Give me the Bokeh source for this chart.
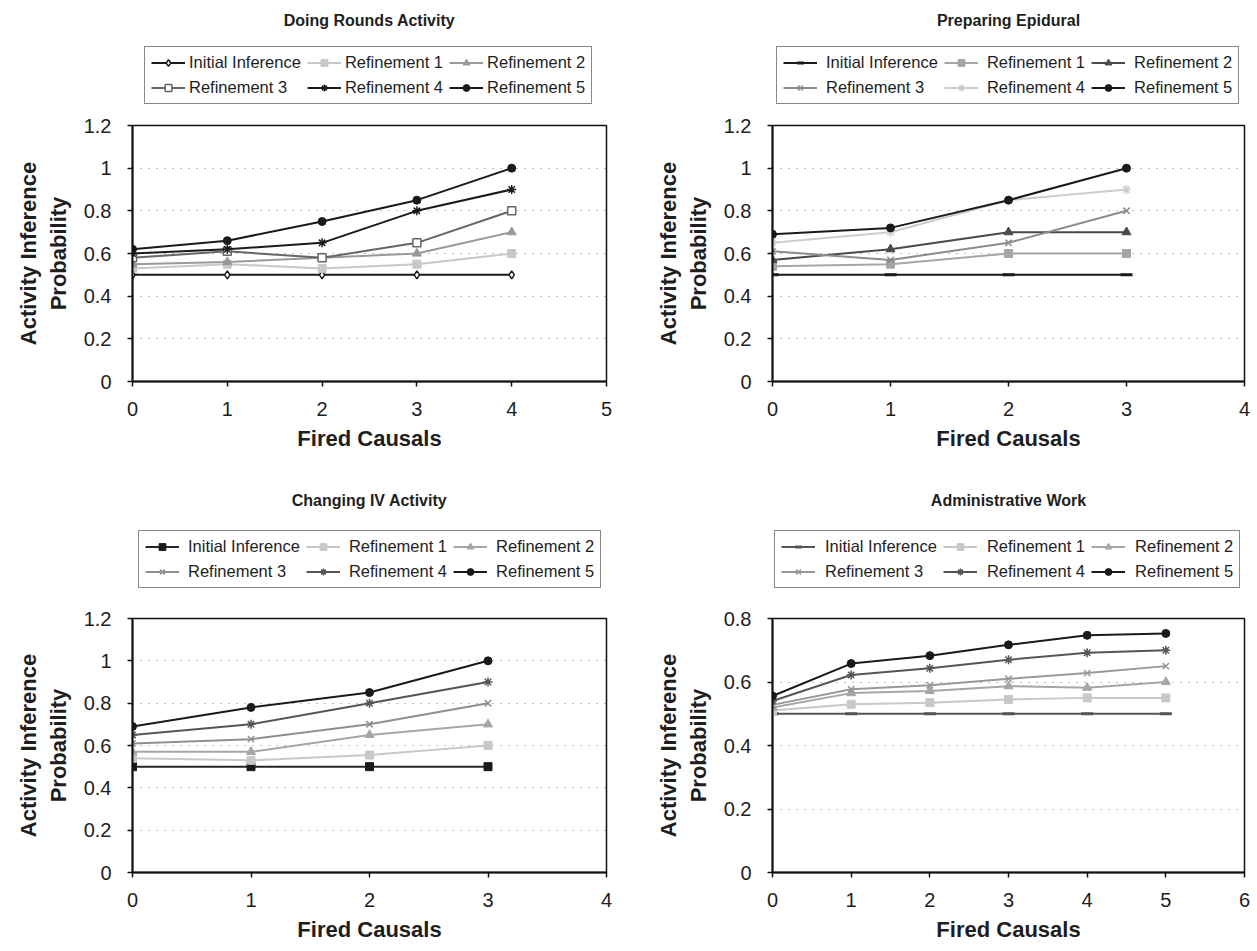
from bokeh.plotting import figure
from bokeh.models import Range1d, FixedTicker, NumeralTickFormatter, Legend, LegendItem, Label
from bokeh.layouts import column, row
from bokeh.embed import file_html
from bokeh.resources import INLINE

series_names = ["Initial Inference", "Refinement 1", "Refinement 2",
                "Refinement 3", "Refinement 4", "Refinement 5"]

# ---- Doing Rounds Activity ----
rounds_x = [0, 1, 2, 3, 4]
rounds_initial = [0.5, 0.5, 0.5, 0.5, 0.5]
rounds_ref1 = [0.53, 0.55, 0.53, 0.55, 0.6]
rounds_ref2 = [0.55, 0.56, 0.58, 0.6, 0.7]
rounds_ref3 = [0.58, 0.61, 0.58, 0.65, 0.8]
rounds_ref4 = [0.6, 0.62, 0.65, 0.8, 0.9]
rounds_ref5 = [0.62, 0.66, 0.75, 0.85, 1.0]

# ---- Preparing Epidural ----
epidural_x = [0, 1, 2, 3]
epidural_initial = [0.5, 0.5, 0.5, 0.5]
epidural_ref1 = [0.54, 0.55, 0.6, 0.6]
epidural_ref2 = [0.57, 0.62, 0.7, 0.7]
epidural_ref3 = [0.61, 0.57, 0.65, 0.8]
epidural_ref4 = [0.65, 0.7, 0.85, 0.9]
epidural_ref5 = [0.69, 0.72, 0.85, 1.0]

# ---- Changing IV Activity ----
iv_x = [0, 1, 2, 3]
iv_initial = [0.5, 0.5, 0.5, 0.5]
iv_ref1 = [0.54, 0.53, 0.555, 0.6]
iv_ref2 = [0.57, 0.57, 0.65, 0.7]
iv_ref3 = [0.61, 0.63, 0.7, 0.8]
iv_ref4 = [0.65, 0.7, 0.8, 0.9]
iv_ref5 = [0.69, 0.78, 0.85, 1.0]

# ---- Administrative Work ----
admin_x = [0, 1, 2, 3, 4, 5]
admin_initial = [0.5, 0.5, 0.5, 0.5, 0.5, 0.5]
admin_ref1 = [0.51, 0.53, 0.535, 0.545, 0.55, 0.55]
admin_ref2 = [0.52, 0.565, 0.572, 0.587, 0.582, 0.6]
admin_ref3 = [0.528, 0.577, 0.59, 0.61, 0.628, 0.65]
admin_ref4 = [0.54, 0.622, 0.643, 0.67, 0.692, 0.70]
admin_ref5 = [0.556, 0.658, 0.683, 0.717, 0.747, 0.753]

y_ticks_12 = [0, 0.2, 0.4, 0.6, 0.8, 1.0, 1.2]
y_ticks_08 = [0, 0.2, 0.4, 0.6, 0.8]

FONT = "Liberation Sans"
TXT = "#1e1e1e"

# styles: (line color, marker, marker fill, marker line, marker size)
styles_rounds = [
    ("#1a1a1a", "diamond", "white", "#1a1a1a", 8),
    ("#c8c8c8", "square", "#c8c8c8", "#c8c8c8", 8),
    ("#999999", "triangle", "#999999", "#999999", 9),
    ("#666666", "square", "white", "#666666", 8),
    ("#1a1a1a", "asterisk", "#1a1a1a", "#1a1a1a", 9),
    ("#1a1a1a", "circle", "#1a1a1a", "#1a1a1a", 8),
]
styles_epidural = [
    ("#1a1a1a", "dash", "#1a1a1a", "#1a1a1a", 12),
    ("#a6a6a6", "square", "#a6a6a6", "#a6a6a6", 8),
    ("#4a4a4a", "triangle", "#4a4a4a", "#4a4a4a", 9),
    ("#8c8c8c", "x", "#8c8c8c", "#8c8c8c", 9),
    ("#cccccc", "asterisk", "#cccccc", "#cccccc", 9),
    ("#1a1a1a", "circle", "#1a1a1a", "#1a1a1a", 8),
]
styles_iv = [
    ("#262626", "square", "#1a1a1a", "#1a1a1a", 8),
    ("#c8c8c8", "square", "#c8c8c8", "#c8c8c8", 8),
    ("#a6a6a6", "triangle", "#a6a6a6", "#a6a6a6", 9),
    ("#8f8f8f", "x", "#8f8f8f", "#8f8f8f", 9),
    ("#555555", "asterisk", "#555555", "#555555", 9),
    ("#1a1a1a", "circle", "#1a1a1a", "#1a1a1a", 8),
]
styles_admin = [
    ("#555555", "dash", "#555555", "#555555", 12),
    ("#c8c8c8", "square", "#c8c8c8", "#c8c8c8", 8),
    ("#a6a6a6", "triangle", "#a6a6a6", "#a6a6a6", 9),
    ("#999999", "x", "#999999", "#999999", 9),
    ("#555555", "asterisk", "#555555", "#555555", 9),
    ("#1a1a1a", "circle", "#1a1a1a", "#1a1a1a", 8),
]


def draw_series(p, xs, series, styles):
    items = []
    for name, ys, st in zip(series_names, series, styles):
        lc, mk, fc, mlc, sz = st
        r1 = p.line(xs, ys, line_color=lc, line_width=2)
        lw = 3 if mk == "dash" else (1.5 if mk in ("x", "asterisk", "diamond") or fc == "white" else 1)
        r2 = p.scatter(xs, ys, marker=mk, size=sz, fill_color=fc,
                       line_color=mlc, line_width=lw)
        items.append(LegendItem(label=name, renderers=[r1, r2]))
    return items


def build_header(title, xs, series, styles, w, h, title_xy, legend_xy, standoff):
    # header strip (its frame is aligned with the plot frame below it)
    hd = figure(width=w, height=h, output_backend="svg", toolbar_location=None,
                title=None, x_axis_location=None, y_axis_location=None,
                x_range=Range1d(-20, -19), y_range=Range1d(-20, -19),
                min_border=0, min_border_left=0, min_border_right=0,
                min_border_top=0, min_border_bottom=0)
    hd.outline_line_color = None
    hd.grid.visible = False
    items = draw_series(hd, xs, series, styles)
    legend = Legend(items=items, orientation="horizontal", ncols=3,
                    location=legend_xy,
                    label_text_font=FONT, label_text_font_size="16.5px",
                    label_text_color=TXT, label_standoff=standoff,
                    glyph_width=34, glyph_height=17, label_height=17,
                    spacing=6, padding=6, margin=0,
                    border_line_color="#111111", border_line_width=1,
                    background_fill_alpha=0)
    hd.add_layout(legend, "center")
    t = Label(x=title_xy[0], y=title_xy[1], x_units="screen", y_units="screen",
              text=title, text_font=FONT, text_font_size="16px",
              text_font_style="bold", text_color=TXT,
              text_align="center", text_baseline="middle")
    hd.add_layout(t)
    return hd


def build_plot(xs, series, styles, xmax, ymax, yticks, w, h, borders):
    bl, br, bt, bb = borders
    p = figure(width=w, height=h, output_backend="svg", toolbar_location=None,
               title=None,
               x_range=Range1d(0, xmax), y_range=Range1d(0, ymax),
               min_border_left=bl, min_border_right=br,
               min_border_top=bt, min_border_bottom=bb)

    p.outline_line_color = "#111111"
    p.outline_line_width = 1.5
    p.xgrid.visible = False
    p.ygrid.grid_line_color = "#808080"
    p.ygrid.grid_line_dash = "1 7"
    p.ygrid.grid_line_width = 1

    p.xaxis.ticker = FixedTicker(ticks=list(range(0, xmax + 1)))
    p.yaxis.ticker = FixedTicker(ticks=yticks)
    p.yaxis.formatter = NumeralTickFormatter(format="0.[0]")
    for ax in (p.xaxis[0], p.yaxis[0]):
        ax.axis_line_color = "#111111"
        ax.axis_line_width = 2
        ax.major_tick_line_color = "#111111"
        ax.major_tick_line_width = 1.5
        ax.major_tick_out = 5
        ax.major_tick_in = 0
        ax.minor_tick_line_color = None
        ax.major_label_text_font = FONT
        ax.major_label_text_font_size = "20px"
        ax.major_label_text_color = TXT
        ax.axis_label_text_font = FONT
        ax.axis_label_text_font_size = "22px"
        ax.axis_label_text_font_style = "bold"
        ax.axis_label_text_color = TXT
    p.xaxis.axis_label = "Fired Causals"
    p.xaxis.major_label_standoff = 15
    p.xaxis.axis_label_standoff = 7
    p.yaxis.axis_label = "Activity Inference\nProbability"
    p.yaxis.major_label_standoff = 16
    p.yaxis.axis_label_standoff = 10

    draw_series(p, xs, series, styles)
    return p


s_rounds = [rounds_initial, rounds_ref1, rounds_ref2, rounds_ref3, rounds_ref4, rounds_ref5]
s_epidural = [epidural_initial, epidural_ref1, epidural_ref2, epidural_ref3, epidural_ref4, epidural_ref5]
s_iv = [iv_initial, iv_ref1, iv_ref2, iv_ref3, iv_ref4, iv_ref5]
s_admin = [admin_initial, admin_ref1, admin_ref2, admin_ref3, admin_ref4, admin_ref5]

h1 = build_header("Doing Rounds Activity", rounds_x, s_rounds, styles_rounds,
                  628, 106, (237, 86), (12, 2), 4)
p1 = build_plot(rounds_x, s_rounds, styles_rounds, 5, 1.2, y_ticks_12,
                628, 370, (132, 22, 19, 95))
h2 = build_header("Preparing Epidural", epidural_x, s_epidural, styles_epidural,
                  629, 106, (236, 86), (4, 2), 9)
p2 = build_plot(epidural_x, s_epidural, styles_epidural, 4, 1.2, y_ticks_12,
                629, 370, (144, 13, 19, 95))
h3 = build_header("Changing IV Activity", iv_x, s_iv, styles_iv,
                  628, 120, (237, 96), (6, 8), 9)
p3 = build_plot(iv_x, s_iv, styles_iv, 4, 1.2, y_ticks_12,
                628, 355, (132, 22, 22, 79))
h4 = build_header("Administrative Work", admin_x, s_admin, styles_admin,
                  629, 120, (236, 96), (2, 8), 10)
p4 = build_plot(admin_x, s_admin, styles_admin, 6, 0.8, y_ticks_08,
                629, 355, (144, 13, 22, 79))

layout = column(row(column(h1, p1), column(h2, p2)),
                row(column(h3, p3), column(h4, p4)))
open("out.html", "w").write(file_html(layout, INLINE))
